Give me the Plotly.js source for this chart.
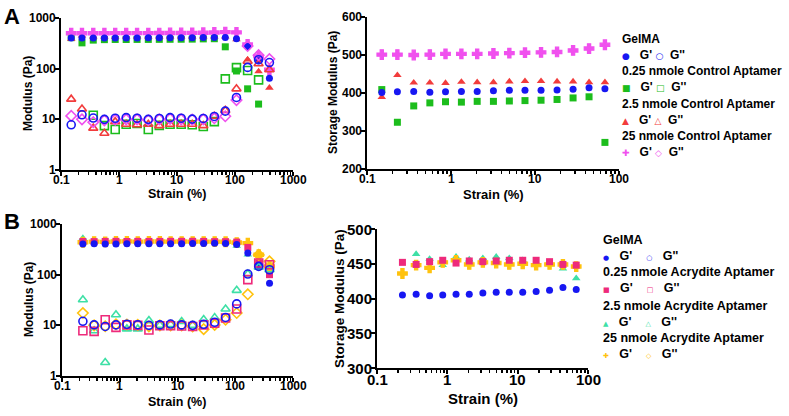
<!DOCTYPE html>
<html><head><meta charset="utf-8">
<script src="https://cdn.plot.ly/plotly-3.0.1.min.js"></script>
<style>html,body{margin:0;padding:0;background:#fff}#chart{width:789px;height:416px}</style>
</head><body><div id="chart"></div>
<script>
// ---------- DATA ----------
// Panel A: strain sweep (%), G' (storage) and G'' (loss) in Pa
const strainA = [0.15, 0.23, 0.36, 0.56, 0.86, 1.33, 2.05, 3.2, 4.95, 7.6, 11.8, 18.3, 28.4, 44, 68, 106, 165, 255, 392];
const gelA_Gp   = [401, 403, 404, 402, 403, 404, 404, 406, 407, 407, 407, 408, 410, 414, 411, 390, 275, 143, 65];
const gelA_Gpp  = [7.8, 12.3, 10.6, 10, 10.5, 10.8, 10.5, 10, 10.4, 10.8, 10.5, 10.1, 10.4, 11.4, 14.5, 27, 106, 150, 132];
const c025_Gp   = [409, 323, 366, 374, 377, 376, 378, 378, 379, 380, 381, 383, 387, 390, 270, 90, 40, 20, null];
const c025_Gpp  = [null, null, 12, 7.5, 6.3, 8, 8.3, 6.3, 7.6, 8, 8, 7.8, 7.2, 9, 63, 105, 92, 60, null];
const c2_5_Gp   = [389, 447, 427, 427, 426, 429, 428, 428, 430, 431, 431, 430, 430, 428, 428, 380, 150, 88, 42];
const c2_5_Gpp  = [25, 16, 6.7, 5.3, 9, 8, 7.8, 8, 7.5, 8, 8, 8, 7.5, 11.5, 15, 40, 140, 125, 95];
const c25_Gp    = [501, 501, 500, 501, 503, 503, 503, 504, 505, 506, 507, 508, 512, 517, 527, 520, 300, 175, 95];
const c25_Gpp   = [11.7, 10, 8.8, 9.5, 9.8, 10, 10, 9.6, 10, 10.2, 10, 9.9, 10, 10.5, 11.5, 24, 280, 185, 155];
const nStorageA = 15; // points shown in storage-modulus panel A

// Panel B
const strainB = [0.23, 0.36, 0.56, 0.86, 1.33, 2.05, 3.2, 4.95, 7.6, 11.8, 18.3, 28.4, 44, 68, 106, 165, 255, 392];
const gelB_Gp   = [405, 406, 404, 405, 406, 406, 408, 409, 409, 409, 410, 412, 416, 413, 395, 267, 150, 68];
const gelB_Gpp  = [12, 10.2, 9.5, 10.2, 10.5, 10.3, 10, 10.2, 10.6, 10.2, 10, 10.5, 11.5, 14.3, 26.5, 103, 146, 125];
const a025_Gp   = [452, 449, 453, 455, 451, 454, 453, 454, 455, 455, 455, 453, 449, 448, 440, 345, 170, 100];
const a025_Gpp  = [7.8, 7.6, 12.9, 9.1, 10.2, 10, 8.1, 9.8, 9.8, 9.7, 9.5, 10.2, 11, 14, 21, 80, 170, 157];
const a2_5_Gp   = [527, 464, 457, 448, 460, 456, 458, 460, 458, 455, 452, 449, 443, 429, 370, 250, 135, 125];
const a2_5_Gpp  = [32, 7.8, 1.85, 16.2, 8.5, 8.5, 12.4, 10, 10.4, 11.9, 10, 13, 14.2, 21, 49, 103, 140, 125];
const a25_Gp    = [436, 448, 444, 452, 455, 449, 452, 451, 449, 450, 448, 449, 449, 446, 430, 420, 248, 146];
const a25_Gpp   = [17.5, 10, 9.6, 10.5, 10.4, 10.2, 9.5, 10, 10, 10, 9.5, 8.4, 10.2, 12.9, 17.5, 41, 245, 183];
const nStorageB = 14;

// Tick labels
const logTicks4 = [0.1, 1, 10, 100, 1000];
const logTicks4Text = ['0.1', '1', '10', '100', '1000'];
const logTicks3 = [0.1, 1, 10, 100];
const logTicks3Text = ['0.1', '1', '10', '100'];
const modTicks = [1, 10, 100, 1000];
const modTicksText = ['1', '10', '100', '1000'];
const storTicksA = [200, 300, 400, 500, 600];
const storTicksB = [300, 350, 400, 450, 500];

// Legend labels
const legendA = ['GelMA', '0.25 nmole Control Aptamer', '2.5 nmole Control Aptamer', '25 nmole Control Aptamer'];
const legendB = ['GelMA', '0.25 nmole Acrydite Aptamer', '2.5 nmole Acrydite Aptamer', '25 nmole Acrydite Aptamer'];

// ---------- STYLE ----------
const W = 789, H = 416;
const px = x => x / W, py = y => 1 - y / H;
const FONT = 'Liberation Sans, Arial, sans-serif';
const C = {gel: '#1717f2', c025: '#1cbd1c', c2_5: '#f23c3c', c25: '#f050ee', a025: '#ee2a7b', a2_5: '#3ee0a6', a25: '#ffc20e'};
const SYM = {gel: 'circle', c025: 'square', c2_5: 'triangle-up', c25: 'cross', a025: 'square', a2_5: 'triangle-up', a25: 'cross'};
const OSYM = {gel: 'circle-open', c025: 'square-open', c2_5: 'triangle-up-open', c25: 'diamond-open', a025: 'square-open', a2_5: 'triangle-up-open', a25: 'diamond-open'};
const SZ = {circle: 7, square: 7, 'triangle-up': 7.5, cross: 8};

function tr(x, y, xa, ya, key, open) {
  const s = SYM[key];
  return {type: 'scatter', mode: 'markers', x: x, y: y, xaxis: xa, yaxis: ya, showlegend: false, hoverinfo: 'skip',
    marker: open ? {symbol: OSYM[key], color: C[key], size: 8, line: {color: C[key], width: 1.6}}
                 : {symbol: s, color: C[key], size: SZ[s], line: {color: C[key], width: s === 'cross' ? 1.2 : 0}}};
}

const traces = [];
const setA = [['c025', c025_Gp, c025_Gpp], ['c2_5', c2_5_Gp, c2_5_Gpp], ['c25', c25_Gp, c25_Gpp], ['gel', gelA_Gp, gelA_Gpp]];
const setB = [['a2_5', a2_5_Gp, a2_5_Gpp], ['a25', a25_Gp, a25_Gpp], ['a025', a025_Gp, a025_Gpp], ['gel', gelB_Gp, gelB_Gpp]];
setA.forEach(([k, gp]) => traces.push(tr(strainA, gp, 'x', 'y', k, false)));
setA.forEach(([k, gp, gpp]) => traces.push(tr(strainA, gpp, 'x', 'y', k, true)));
setA.forEach(([k, gp]) => traces.push(tr(strainA.slice(0, nStorageA), gp.slice(0, nStorageA), 'x2', 'y2', k, false)));
setB.forEach(([k, gp]) => traces.push(tr(strainB, gp, 'x3', 'y3', k, false)));
setB.forEach(([k, gp, gpp]) => traces.push(tr(strainB, gpp, 'x3', 'y3', k, true)));
setB.forEach(([k, gp]) => traces.push(tr(strainB.slice(0, nStorageB), gp.slice(0, nStorageB), 'x4', 'y4', k, false)));

function axisBase(dom, anchor, type, range, tv) {
  return {showline: true, linewidth: 2, linecolor: '#000', showgrid: false, zeroline: false, ticks: 'outside',
    ticklen: 4, tickwidth: 2, tickcolor: '#000', fixedrange: true, showticklabels: false,
    type: type, range: range, domain: dom, anchor: anchor, tickmode: 'array', tickvals: tv};
}
function logX(dom, anchor, maxExp, tv) {
  return Object.assign(axisBase(dom, anchor, 'log', [-1, maxExp], tv),
    {minor: {ticks: 'outside', ticklen: 2.5, tickwidth: 1.5, tickcolor: '#000', dtick: 'D1', showgrid: false}});
}

const layout = {
  width: W, height: H, margin: {l: 0, r: 0, t: 0, b: 0}, paper_bgcolor: '#fff', plot_bgcolor: 'rgba(0,0,0,0)',
  showlegend: false, font: {family: FONT, color: '#000'},
  xaxis:  logX([px(61), px(293)], 'y', 3, logTicks4),
  yaxis:  axisBase([py(170), py(18)], 'x', 'log', [0, 3], modTicks),
  xaxis2: logX([px(367), px(619)], 'y2', 2, logTicks3),
  yaxis2: axisBase([py(169), py(17)], 'x2', 'linear', [200, 600], storTicksA),
  xaxis3: logX([px(62), px(293)], 'y3', 3, logTicks4),
  yaxis3: axisBase([py(376), py(224)], 'x3', 'log', [0, 3], modTicks),
  xaxis4: logX([px(377), px(588)], 'y4', 2, logTicks3),
  yaxis4: axisBase([py(368), py(229)], 'x4', 'linear', [300, 500], storTicksB),
  annotations: []
};
const A = layout.annotations;
const bold = (size, color) => ({family: FONT, size: size, color: color || '#000', weight: 'bold'});

// Tick labels placed through the axes' own scales
function xLabels(xa, ya, vals, texts, fs, shift) {
  vals.forEach((v, i) => A.push({text: texts[i], xref: xa, x: Math.log10(v), yref: ya + ' domain', y: 0,
    xanchor: 'center', yanchor: 'top', yshift: shift, showarrow: false, borderpad: 0, font: bold(fs)}));
}
function yLabels(xa, ya, vals, texts, isLog, fs, shift) {
  vals.forEach((v, i) => A.push({text: texts[i], xref: xa + ' domain', x: 0, yref: ya, y: isLog ? Math.log10(v) : v,
    xanchor: 'right', yanchor: 'middle', xshift: shift, showarrow: false, borderpad: 0, font: bold(fs)}));
}
xLabels('x', 'y', logTicks4, logTicks4Text, 12, -2);
yLabels('x', 'y', modTicks, modTicksText, true, 12, -4);
xLabels('x2', 'y2', logTicks3, logTicks3Text, 12, -2);
yLabels('x2', 'y2', storTicksA, storTicksA.map(String), false, 12, -4);
xLabels('x3', 'y3', logTicks4, logTicks4Text, 12, -2);
yLabels('x3', 'y3', modTicks, modTicksText, true, 12, -4);
xLabels('x4', 'y4', logTicks3, logTicks3Text, 15, -2);
yLabels('x4', 'y4', storTicksB, storTicksB.map(String), false, 15, -4);

// Axis titles
function title(text, x, y, fs, angle) {
  A.push({text: text, x: px(x), y: py(y), xref: 'paper', yref: 'paper', xanchor: 'center', yanchor: 'middle',
    textangle: angle || 0, showarrow: false, borderpad: 0, font: bold(fs)});
}
title('Strain (%)', 177, 194, 12.5);
title('Modulus (Pa)', 28, 94, 12, -90);
title('Strain (%)', 493, 194, 13);
title('Storage Modulus (Pa)', 333, 93, 12, -90);
title('Strain (%)', 177, 402, 12.5);
title('Modulus (Pa)', 29, 300, 12, -90);
title('Strain (%)', 483, 398, 15);
title('Storage Modulus (Pa)', 339, 299, 13.5, -90);

// Panel letters
A.push({text: 'A', x: px(2), y: py(17), xref: 'paper', yref: 'paper', xanchor: 'left', yanchor: 'middle', showarrow: false, font: bold(22)});
A.push({text: 'B', x: px(2), y: py(221), xref: 'paper', yref: 'paper', xanchor: 'left', yanchor: 'middle', showarrow: false, font: bold(22)});

// Legends: one two-line annotation per group (title + glyph row)
const GLYPH = {circle: '●', 'circle-open': '○', square: '■', 'square-open': '□', 'triangle-up': '▲', 'triangle-up-open': '△', cross: '✚', 'diamond-open': '◇'};
const NB = '\u00a0';
function legend(labels, keys, x, ys, fs, gfs, g1, g2, g3) {
  labels.forEach((lab, i) => {
    const k = keys[i];
    const sp = (g) => `<span style="color:${C[k]};font-size:${gfs}px;font-family:DejaVu Sans">${g}</span>`;
    const row = sp(GLYPH[SYM[k]]) + NB.repeat(g1) + "G'" + NB.repeat(g2) + sp(GLYPH[OSYM[k]]) + NB.repeat(g3) + "G''";
    A.push({text: lab + '<br>' + row, x: px(x), y: py(ys[i]), xref: 'paper', yref: 'paper',
      xanchor: 'left', yanchor: 'middle', align: 'left', showarrow: false, borderpad: 0, font: bold(fs)});
  });
}
legend(legendA, ['gel', 'c025', 'c2_5', 'c25'], 621, [46.5, 78.5, 112, 143.5], 12, 9, 3, 1, 2);
legend(legendB, ['gel', 'a025', 'a2_5', 'a25'], 602, [247.5, 280, 313.5, 346], 12.5, 7, 3, 4, 3);

Plotly.newPlot('chart', traces, layout, {staticPlot: true, displayModeBar: false});
</script></body></html>
